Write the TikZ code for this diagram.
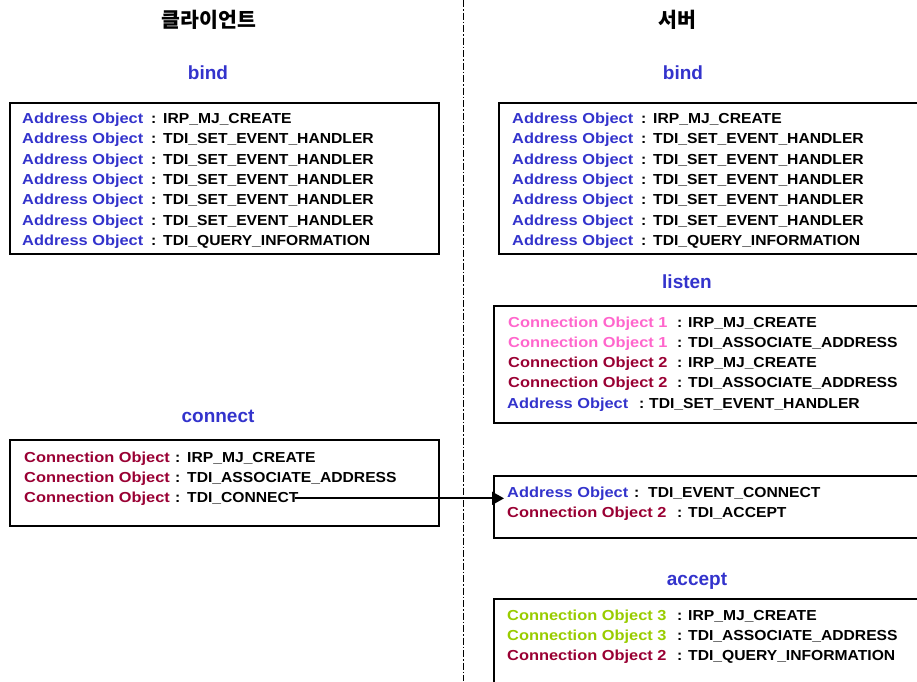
\documentclass[tikz,border=0pt]{standalone}
\usepackage{fontspec}
\setmainfont{Liberation Sans}
\newfontfamily\labfont{Liberation Sans}[FakeStretch=1.08]
\newfontfamily\namefont{Liberation Sans}[FakeStretch=1.13]
\newfontfamily\krfont{Noto Sans CJK KR}
\usetikzlibrary{arrows.meta}
\definecolor{objblue}{RGB}{51,51,204}
\definecolor{objred}{RGB}{153,0,51}
\definecolor{objpink}{RGB}{255,102,204}
\definecolor{objgreen}{RGB}{153,204,0}
\tikzset{
  lab/.style={inner sep=0pt,anchor=base west,font=\labfont\bfseries\fontsize{14.5}{17}\selectfont},
  objname/.style={inner sep=0pt,anchor=base west,font=\namefont\bfseries\fontsize{14.5}{17}\selectfont},
  ttl/.style={inner sep=0pt,text=objblue,font=\bfseries\fontsize{19}{22}\selectfont},
  krttl/.style={inner sep=0pt,font=\krfont\bfseries\fontsize{20.5}{24}\selectfont},
  opbox/.style={draw=black,line width=1.5pt,inner sep=0pt,anchor=north west},
  divider/.style={line width=1pt,dash pattern=on 7pt off 2pt on 1.5pt off 2pt},
  conn/.style={line width=2pt,-{Triangle[length=12pt,width=13pt]}}
}
\newcommand\drow[8]{%
  \node[objname,text=#4] (#1l) at (#3,#2+5.5) {#5};
  \node[lab] (#1c) at (#6,#2+5.5) {:};
  \node[lab] (#1v) at (#7,#2+5.5) {#8};}
\begin{document}
\begin{tikzpicture}[x=1pt,y=-1pt]
\useasboundingbox (0,0) rectangle (917,681);
\clip (0,0) rectangle (917,681);
% divider
\coordinate (dtop) at (463,0);
\coordinate (dbot) at (463,681);
\draw[divider] (dtop) -- (dbot);
% headers
\node[krttl] (hclient) at (209,20) {클라이언트};
\node[krttl] (hserver) at (677,20) {서버};
% client bind
\node[ttl] (tbindL) at (208,73) {bind};
\node[opbox,minimum width=429pt,minimum height=151pt] (bbindL) at (9,102) {};
\foreach \i/\v in {0/IRP\_MJ\_CREATE,1/TDI\_SET\_EVENT\_HANDLER,2/TDI\_SET\_EVENT\_HANDLER,3/TDI\_SET\_EVENT\_HANDLER,4/TDI\_SET\_EVENT\_HANDLER,5/TDI\_SET\_EVENT\_HANDLER,6/TDI\_QUERY\_INFORMATION}{
  \drow{bl\i}{118+20.3*\i}{22}{objblue}{Address Object}{151}{163}{\v}
}
% server bind
\node[ttl] (tbindR) at (683,73) {bind};
\node[opbox,minimum width=430pt,minimum height=151pt] (bbindR) at (498,102) {};
\foreach \i/\v in {0/IRP\_MJ\_CREATE,1/TDI\_SET\_EVENT\_HANDLER,2/TDI\_SET\_EVENT\_HANDLER,3/TDI\_SET\_EVENT\_HANDLER,4/TDI\_SET\_EVENT\_HANDLER,5/TDI\_SET\_EVENT\_HANDLER,6/TDI\_QUERY\_INFORMATION}{
  \drow{br\i}{118+20.3*\i}{512}{objblue}{Address Object}{641}{653}{\v}
}
% listen
\node[ttl] (tlisten) at (687,282) {listen};
\node[opbox,minimum width=440pt,minimum height=117pt] (blisten) at (493,305) {};
\drow{ls0}{322}{508}{objpink}{Connection Object 1}{677}{688}{IRP\_MJ\_CREATE}
\drow{ls1}{342}{508}{objpink}{Connection Object 1}{677}{688}{TDI\_ASSOCIATE\_ADDRESS}
\drow{ls2}{362}{508}{objred}{Connection Object 2}{677}{688}{IRP\_MJ\_CREATE}
\drow{ls3}{382}{508}{objred}{Connection Object 2}{677}{688}{TDI\_ASSOCIATE\_ADDRESS}
\drow{ls4}{403}{507}{objblue}{Address Object}{639}{649}{TDI\_SET\_EVENT\_HANDLER}
% client connect
\node[ttl] (tconnect) at (218,416) {connect};
\node[opbox,minimum width=429pt,minimum height=86pt] (bconnect) at (9,439) {};
\drow{cn0}{457}{24}{objred}{Connection Object}{175}{187}{IRP\_MJ\_CREATE}
\drow{cn1}{477}{24}{objred}{Connection Object}{175}{187}{TDI\_ASSOCIATE\_ADDRESS}
\drow{cn2}{497}{24}{objred}{Connection Object}{175}{187}{TDI\_CONNECT}
% server event box
\node[opbox,minimum width=440pt,minimum height=62pt] (bevent) at (493,475) {};
\drow{ev0}{492}{507}{objblue}{Address Object}{634}{648}{TDI\_EVENT\_CONNECT}
\drow{ev1}{512}{507}{objred}{Connection Object 2}{677}{688}{TDI\_ACCEPT}
% accept
\node[ttl] (taccept) at (697,581) {accept};
\node[opbox,minimum width=440pt,minimum height=120pt] (baccept) at (493,598) {};
\drow{ac0}{615}{507}{objgreen}{Connection Object 3}{677}{688}{IRP\_MJ\_CREATE}
\drow{ac1}{635}{507}{objgreen}{Connection Object 3}{677}{688}{TDI\_ASSOCIATE\_ADDRESS}
\drow{ac2}{655}{507}{objred}{Connection Object 2}{677}{688}{TDI\_QUERY\_INFORMATION}
% connector
\coordinate (astart) at (cn2v.east);
\coordinate (aend) at (astart -| ev0l.west);
\draw[conn] ([xshift=-4pt]astart) -- ([xshift=-3pt]aend);
\end{tikzpicture}
\end{document}
